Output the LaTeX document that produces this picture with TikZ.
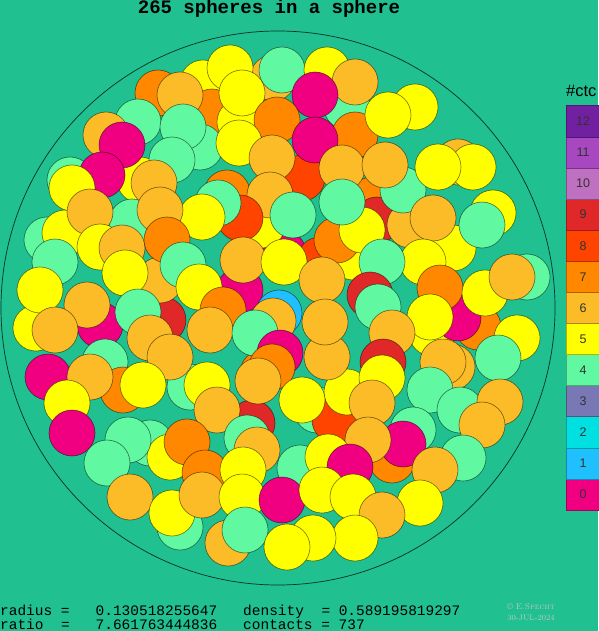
\documentclass[tikz,border=0pt]{standalone}
\usepackage{fontspec}
\newfontfamily\monofont{Liberation Mono}
\newfontfamily\labelfont{Liberation Sans}
\usepackage{tikz}
\usetikzlibrary{positioning}

\definecolor{bg}{RGB}{32,192,144}
\definecolor{ctc0}{RGB}{240,0,128}
\definecolor{ctc1}{RGB}{32,192,255}
\definecolor{ctc2}{RGB}{0,224,224}
\definecolor{ctc3}{RGB}{120,120,180}
\definecolor{ctc4}{RGB}{96,248,160}
\definecolor{ctc5}{RGB}{255,255,0}
\definecolor{ctc6}{RGB}{252,188,40}
\definecolor{ctc7}{RGB}{255,136,0}
\definecolor{ctc8}{RGB}{255,68,0}
\definecolor{ctc9}{RGB}{224,40,40}
\definecolor{ctc10}{RGB}{192,112,192}
\definecolor{ctc11}{RGB}{168,72,192}
\definecolor{ctc12}{RGB}{112,32,160}
\definecolor{stamp}{RGB}{190,202,196}

\tikzset{
  ball/.style={draw=black, draw opacity=0.55, line width=0.6pt},
  legendbox/.style={fill=#1, draw=#1!70!black, line width=0.5pt},
}

\begin{document}
\begin{tikzpicture}[x=1pt,y=-1pt]
  % background
  \fill[bg] (0,0) rectangle (598,631);
  \useasboundingbox (0,0) rectangle (598,631);

  % container
  \draw[black!75!bg, line width=0.7pt] (278,308) circle[radius=277pt];

  % spheres, back
  \foreach \px/\py/\c in {203/83/5, 273/78/6, 158/93/7, 138/122/4, 212/112/7,
      240/122/5, 200/147/4, 347/107/4, 415/107/5, 458/162/6, 473/167/5,
      372/200/7, 377/220/9, 410/225/6, 493/213/5, 453/248/5, 140/180/5,
      70/180/4, 47/240/4, 65/233/5, 132/222/4, 36/328/5, 100/325/0,
      163/320/9, 105/362/4, 123/390/7, 190/387/4, 150/443/4, 170/457/5,
      263/373/7, 252/423/9, 527/277/4, 432/333/5, 478/327/7, 452/367/6,
      317/410/4, 335/420/8, 392/460/7, 283/253/0, 320/260/8, 353/257/5,
      302/178/8, 160/280/6, 347/392/5, 458/318/0, 337/240/7, 262/225/5}
    \filldraw[ball, fill=ctc\c] (\px,\py) circle[radius=23pt];

  % spheres, upper half
  \foreach \px/\py/\c in {230/68/5, 282/70/4, 327/70/5, 355/82/6, 315/95/0,
      180/95/6, 242/93/5, 183/127/4, 277/120/7, 355/135/7, 315/140/0,
      106/135/6, 122/145/0, 388/115/5, 239/143/5, 172/160/4, 272/158/6,
      342/168/6, 403/190/4, 385/165/6, 438/167/5, 102/175/0, 72/188/5,
      154/183/6, 227/193/7, 270/195/6, 240/218/8, 218/203/4, 293/215/4,
      202/217/5, 90/212/6, 160/210/6, 362/230/5, 342/202/4, 433/218/6,
      482/225/4, 55/262/4, 100/247/5, 122/248/6, 167/240/7, 125/273/5,
      183/265/4, 240/290/0, 243/260/6, 199/287/5, 284/262/5, 423/262/5,
      382/262/4, 440/288/7, 485/293/5, 512/277/6, 40/290/5}
    \filldraw[ball, fill=ctc\c] (\px,\py) circle[radius=23pt];

  % spheres, middle
  \foreach \px/\py/\c in {87/305/6, 55/330/6, 138/312/4, 370/295/9,
      378/307/4, 430/317/5, 322/280/6, 223/310/7, 279/313/1, 210/330/6,
      273/321/6, 255/333/4, 327/357/6, 325/322/6, 392/333/6, 517/338/5,
      498/358/4, 443/362/6, 383/362/9, 382/378/5, 372/403/6, 48/377/0,
      90/377/6, 67/403/5, 72/433/0, 150/338/6, 170/357/6, 143/385/5,
      207/385/5, 217/410/6, 280/353/0, 272/367/7, 258/381/6, 302/400/5,
      430/390/4, 460/410/4, 500/402/6, 482/425/6, 413/430/4, 403/444/0,
      368/440/6}
    \filldraw[ball, fill=ctc\c] (\px,\py) circle[radius=23pt];

  % spheres, lower half
  \foreach \px/\py/\c in {463/458/4, 435/470/6, 128/440/4, 107/463/4,
      187/442/7, 205/473/7, 247/438/4, 257/450/6, 243/470/5, 300/468/4,
      328/457/5, 350/467/0, 130/497/6, 180/527/4, 172/513/5, 202/495/6,
      242/497/5, 282/500/0, 322/490/5, 353/497/5, 420/503/5, 382/515/6,
      228/543/6, 245/530/4, 355/538/5, 313/538/5, 287/547/5}
    \filldraw[ball, fill=ctc\c] (\px,\py) circle[radius=23pt];

  % title
  \node[anchor=base] (title) at (269,14)
    {\monofont\bfseries\fontsize{19}{20}\selectfont 265 spheres in a sphere};

  % legend
  \node[anchor=west, inner sep=0pt] (ctchead) at (566,91)
    {\labelfont\fontsize{16.5}{17}\selectfont \#ctc};
  \foreach \n in {0,...,12} {
    \filldraw[legendbox=ctc\n] (566,{510-31.1*\n}) rectangle (602,{510-31.1*(\n+1)});
    \node[inner sep=0pt] (ctc\n) at (583,{494.5-31.1*\n})
      {\labelfont\fontsize{12.5}{13}\selectfont\color{black!80}\n};
  }

  % values
  \begin{scope}[every node/.style={anchor=base west, inner sep=0pt,
      font=\monofont\fontsize{14.47}{15}\selectfont}]
    \node (radiuslbl) at (0,615) {radius =};
    \node (radiusval) at (95.5,615) {0.130518255647};
    \node (densitylbl) at (243,615) {density};
    \node (densityeq) at (321.3,615) {=};
    \node (densityval) at (338.6,615) {0.589195819297};
    \node (ratiolbl) at (0,629) {ratio};
    \node (ratioeq) at (60.8,629) {=};
    \node (ratioval) at (95.5,629) {7.661763444836};
    \node (contacts) at (243,629) {contacts = 737};
  \end{scope}

  % stamp
  \node[text=stamp, inner sep=0pt] (author) at (531,607)
    {\fontsize{8.5}{9}\selectfont\textcopyright\ \textsc{E.Specht}};
  \node[text=stamp, inner sep=0pt] (date) at (531,618)
    {\fontsize{8}{9}\selectfont 30-JUL-2024};
\end{tikzpicture}
\end{document}
